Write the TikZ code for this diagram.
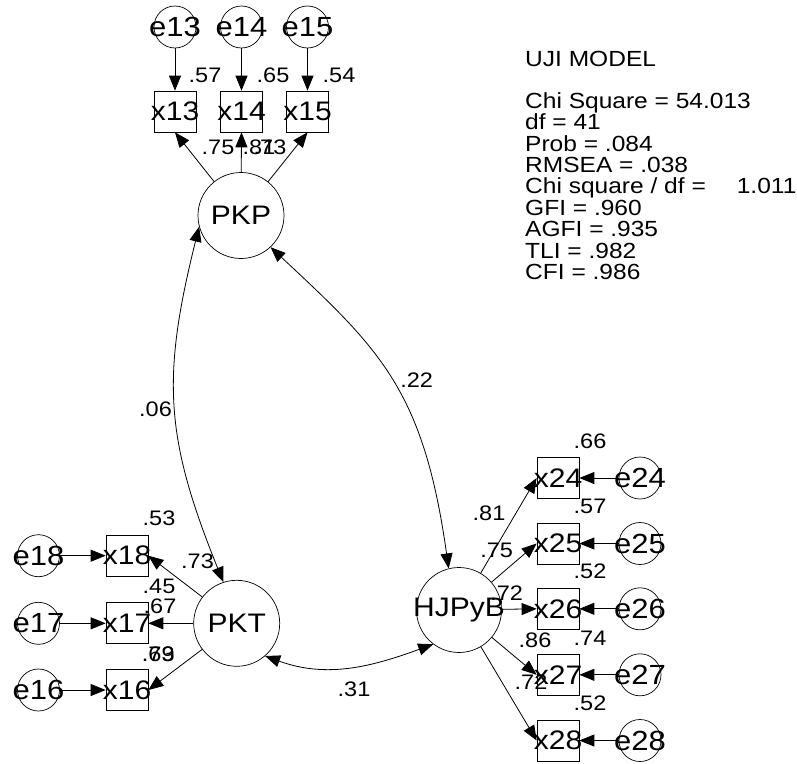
\documentclass[tikz,border=0pt]{standalone}
\usepackage{fontspec}
\setmainfont[FakeStretch=1.12]{Liberation Sans}
\usetikzlibrary{arrows.meta}
\begin{document}
\begin{tikzpicture}[x=1pt,y=1pt,
  lat/.style={circle,draw,line width=0.7pt,inner sep=0pt,minimum size=86pt,font=\fontsize{26.8}{27}\selectfont},
  err/.style={circle,draw,line width=0.7pt,inner sep=0pt,minimum size=42pt,font=\fontsize{27.7}{28}\selectfont},
  obs/.style={rectangle,draw,line width=0.7pt,inner sep=0pt,minimum width=42pt,minimum height=41pt,font=\fontsize{26.8}{27}\selectfont},
  arr/.style={-{Triangle[length=15pt,width=12pt]},line width=0.8pt},
  cov/.style={{Triangle[length=15pt,width=12pt]}-{Triangle[length=15pt,width=12pt]},line width=0.8pt},
  lbl/.style={inner sep=0pt,font=\fontsize{21}{21}\selectfont},
  stat/.style={inner sep=0pt,anchor=base west,font=\fontsize{21.9}{21.4}\selectfont}]
\useasboundingbox (0,0) rectangle (797,-763);

% latent variables
\node[lat] (PKP) at (241,-215.5) {PKP};
\node[lat] (PKT) at (236.7,-623.3) {PKT};
\node[lat,minimum size=85pt] (HJPyB) at (459,-610) {\makebox[0pt]{HJPyB}};

% top indicators
\node[obs] (x13) at (175,-111.5) {\makebox[0pt]{x13}};
\node[obs] (x14) at (241.5,-111.5) {\makebox[0pt]{x14}};
\node[obs] (x15) at (307.5,-111.5) {\makebox[0pt]{x15}};
\node[err] (e13) at (175,-27) {\makebox[0pt]{e13}};
\node[err] (e14) at (241.5,-27) {\makebox[0pt]{e14}};
\node[err] (e15) at (307.5,-27) {\makebox[0pt]{e15}};

% left indicators
\node[obs] (x18) at (127,-555.7) {\makebox[0pt]{x18}};
\node[obs] (x17) at (127,-623.3) {\makebox[0pt]{x17}};
\node[obs] (x16) at (127,-690) {\makebox[0pt]{x16}};
\node[err] (e18) at (38.5,-555.7) {\makebox[0pt]{e18}};
\node[err] (e17) at (38.5,-623.3) {\makebox[0pt]{e17}};
\node[err] (e16) at (38.5,-690) {\makebox[0pt]{e16}};

% right indicators
\node[obs] (x24) at (558,-478) {\makebox[0pt]{x24}};
\node[obs] (x25) at (558,-543.5) {\makebox[0pt]{x25}};
\node[obs] (x26) at (558,-608.8) {\makebox[0pt]{x26}};
\node[obs] (x27) at (558,-674.8) {\makebox[0pt]{x27}};
\node[obs] (x28) at (558,-740.5) {\makebox[0pt]{x28}};
\node[err] (e24) at (640,-478) {\makebox[0pt]{e24}};
\node[err] (e25) at (640,-543.5) {\makebox[0pt]{e25}};
\node[err] (e26) at (640,-608.8) {\makebox[0pt]{e26}};
\node[err] (e27) at (640,-674.8) {\makebox[0pt]{e27}};
\node[err] (e28) at (640,-740.5) {\makebox[0pt]{e28}};

% error arrows
\foreach \i in {13,14,15,16,17,18,24,25,26,27,28}
  \draw[arr] (e\i) -- (x\i);

% loadings
\draw[arr] (PKP) -- (x13.south);
\draw[arr] (PKP) -- (x14.south);
\draw[arr] (PKP) -- (x15.south);
\draw[arr] (PKT) -- (x18.east);
\draw[arr] (PKT) -- (x17.east);
\draw[arr] (PKT) -- (x16.east);
\draw[arr] (HJPyB) -- (x24.west);
\draw[arr] (HJPyB) -- (x25.west);
\draw[arr] (HJPyB) -- (x26.west);
\draw[arr] (HJPyB) -- (x27.west);
\draw[arr] (HJPyB) -- (x28.west);

% covariances
\draw[cov] (PKP.195) to[out=256,in=112,looseness=1.12] (PKT.108);
\draw[cov] (PKP.-47) .. controls +(-43:150) and +(98:180) .. (HJPyB.104.6);
\draw[cov] (PKT.-49) to[out=-20,in=200,looseness=1] (HJPyB.-127);

% labels top
\node[lbl] (r13) at (205,-75) {.57};
\node[lbl] (r14) at (273,-75) {.65};
\node[lbl] (r15) at (339,-75) {.54};
\node[lbl] (l13) at (218,-147) {.75};
\node[lbl] (l14) at (259,-147) {.81};
\node[lbl] (l15) at (270,-147) {.73};
% labels left
\node[lbl] (r18) at (159,-518.5) {.53};
\node[lbl] (l18) at (197.5,-561.7) {.73};
\node[lbl] (r17) at (159,-586) {.45};
\node[lbl] (l17) at (160,-606.5) {.67};
\node[lbl] (r16) at (158.3,-654) {.63};
\node[lbl] (l16) at (158.3,-654) {.79};
% labels right
\node[lbl] (r24) at (590,-441.7) {.66};
\node[lbl] (r25) at (590,-506.7) {.57};
\node[lbl] (r26) at (590,-571.7) {.52};
\node[lbl] (r27) at (590,-638.3) {.74};
\node[lbl] (r28) at (590,-703.3) {.52};
\node[lbl] (l24) at (489,-513.3) {.81};
\node[lbl] (l25) at (496.7,-550) {.75};
\node[lbl] (l26) at (506.7,-593.3) {.72};
\node[lbl] (l27) at (535,-640) {.86};
\node[lbl] (l28) at (531,-681.7) {.72};
% covariance labels
\node[lbl] (c1) at (155.5,-409) {.06};
\node[lbl] (c2) at (416.7,-380) {.22};
\node[lbl] (c3) at (354,-689) {.31};

% fit statistics
\node[stat] (s0) at (525,-66) {UJI MODEL};
\node[stat] (s1) at (525,-108.3) {Chi Square = 54.013};
\node[stat] (s2) at (525,-129.7) {df = 41};
\node[stat] (s3) at (525,-151.1) {Prob = .084};
\node[stat] (s4) at (525,-172.5) {RMSEA = .038};
\node[stat] (s5) at (525,-193.9) {Chi square / df =\hspace{31pt}1.011};
\node[stat] (s6) at (525,-215.3) {GFI = .960};
\node[stat] (s7) at (525,-236.7) {AGFI = .935};
\node[stat] (s8) at (525,-258.1) {TLI = .982};
\node[stat] (s9) at (525,-279.5) {CFI = .986};
\end{tikzpicture}
\end{document}
